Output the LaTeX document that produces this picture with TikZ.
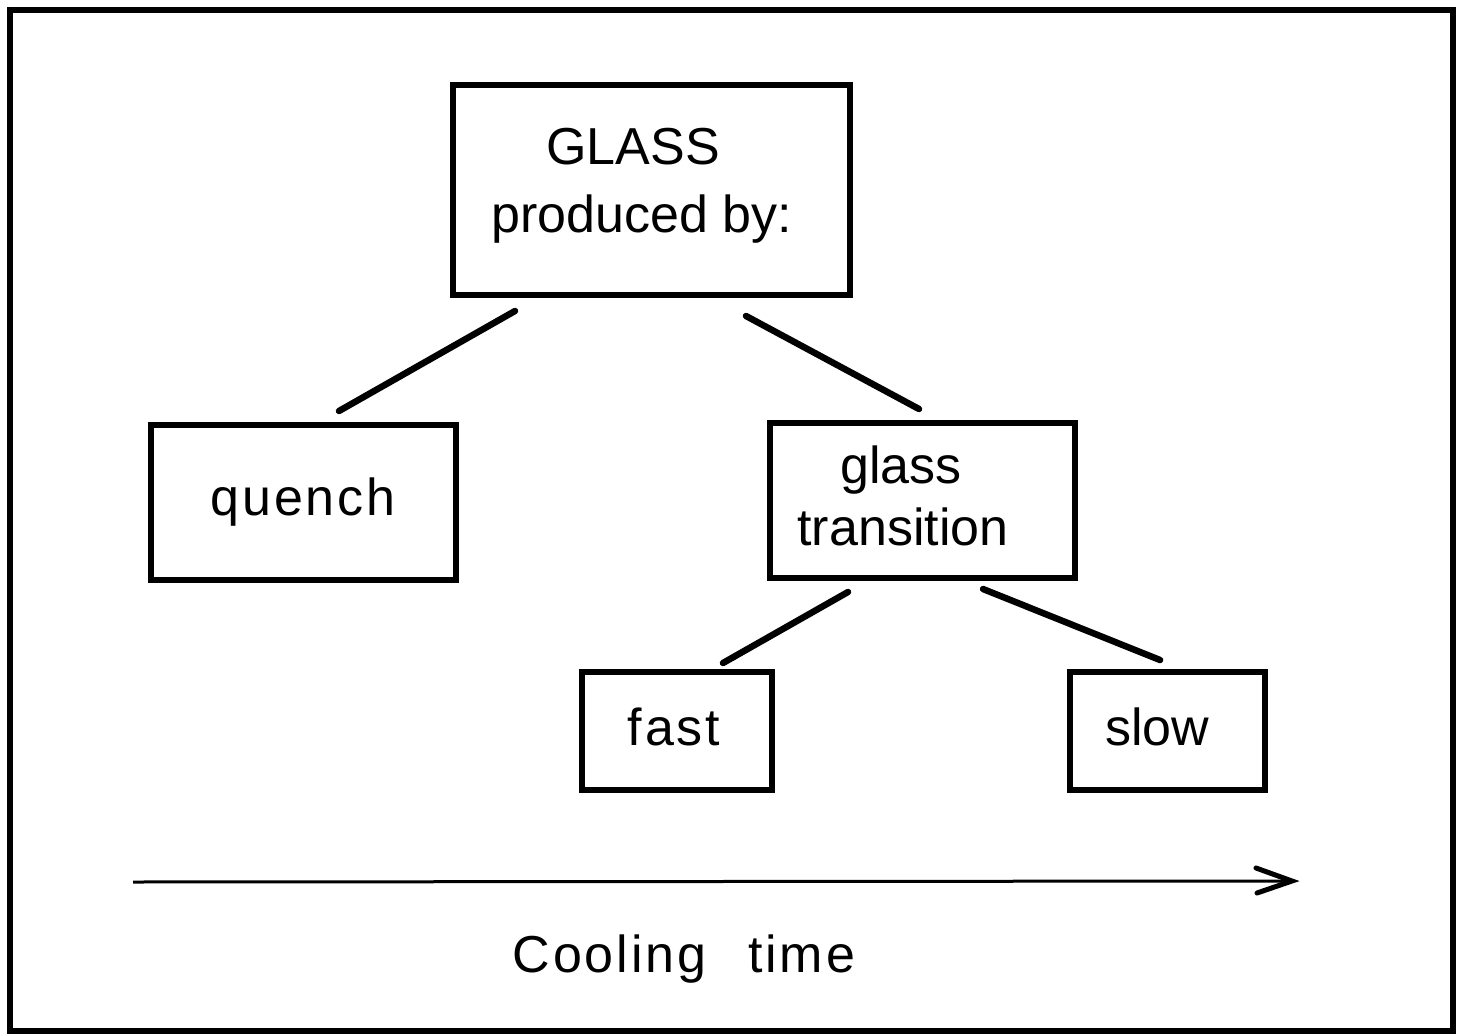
\documentclass[tikz,border=0pt]{standalone}
\usepackage{fontspec}
\setmainfont{Liberation Sans}
\begin{document}
\begin{tikzpicture}[x=1pt,y=-1pt,
  every node/.style={font=\fontsize{52}{62}\selectfont},
  spaced/.style={font=\fontsize{52}{62}\selectfont\addfontfeature{LetterSpace=5.5}},
  box/.style={draw,line width=6pt,inner sep=0pt,align=center},
  link/.style={line width=6.5pt,line cap=round},
]
\useasboundingbox (0,0) rectangle (1469,1035);
% frame
\draw[line width=6pt] (10,10) rectangle (1453,1031);

% boxes
\node[box,minimum width=397,minimum height=210] (glass) at (651.5,190) {};
\node[box,minimum width=305,minimum height=155] (quench) at (303.5,502.5) {};
\node[box,minimum width=305,minimum height=155] (trans) at (922.5,500.5) {};
\node[box,minimum width=190,minimum height=118] (fast) at (677,731) {};
\node[box,minimum width=195,minimum height=118] (slow) at (1167.5,731) {};

% labels
\node[anchor=base] (tglass) at (633,165) {GLASS};
\node[anchor=base] (tprod) at (642,232) {produced by:};
\node[anchor=base,spaced] (tquench) at (303,515) {quench};
\node[anchor=base] (tgl) at (901,483) {glass};
\node[anchor=base] (ttr) at (903,545) {transition};
\node[anchor=base,spaced] (tfast) at (674,745) {fast};
\node[anchor=base] (tslow) at (1157,745) {slow};
\node[anchor=base,spaced] (tcool) at (684,972) {Cooling\hspace{42pt}time};

% connector ends
\coordinate (g1) at (515,311);
\coordinate (q1) at (339,411);
\coordinate (g2) at (746,316);
\coordinate (t1) at (919,409);
\coordinate (t2) at (848,592);
\coordinate (f1) at (723,663);
\coordinate (t3) at (983,589);
\coordinate (s1) at (1160,660);

\draw[link] (g1) -- (q1);
\draw[link] (g2) -- (t1);
\draw[link] (t2) -- (f1);
\draw[link] (t3) -- (s1);

% time axis
\coordinate (a0) at (133,882);
\coordinate (a1) at (1292,881);
\draw[line width=3pt] (a0) -- (a1);
\draw[line width=5pt,line cap=round,line join=miter] (1256,868) -- (a1) -- (1257,893);
\end{tikzpicture}
\end{document}
